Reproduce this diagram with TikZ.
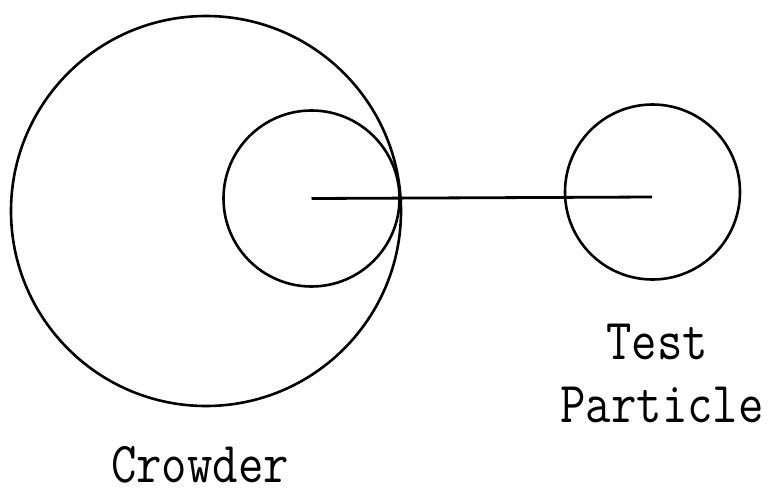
\documentclass[tikz,border=0pt]{standalone}
\tikzset{
  ring/.style={draw=black, line width=2.6pt, circle, inner sep=0pt},
  link/.style={draw=black, line width=2.8pt},
  lbl/.style={anchor=base, inner sep=0pt, font=\fontsize{58}{58}\selectfont\ttfamily}
}
\begin{document}
\begin{tikzpicture}[x=1pt, y=-1pt]
\useasboundingbox (0,0) rectangle (774,493);
\node[ring, minimum size=390pt] (crowd) at (206,211) {};
\node[ring, minimum size=176pt] (inner) at (311.5,198.5) {};
\node[ring, minimum size=175pt] (test) at (652.5,192) {};
\coordinate (tend) at (652,197);
\draw[link] (inner.center) -- (tend);
\node[lbl] (crowdlbl) at (200,482) {\scalebox{0.85}[1]{Crowder}};
\node[lbl] (testlbl) at (657,359) {\scalebox{0.85}[1]{Test}};
\node[lbl] (partlbl) at (662,422) {\scalebox{0.85}[1]{Particle}};
\end{tikzpicture}
\end{document}
